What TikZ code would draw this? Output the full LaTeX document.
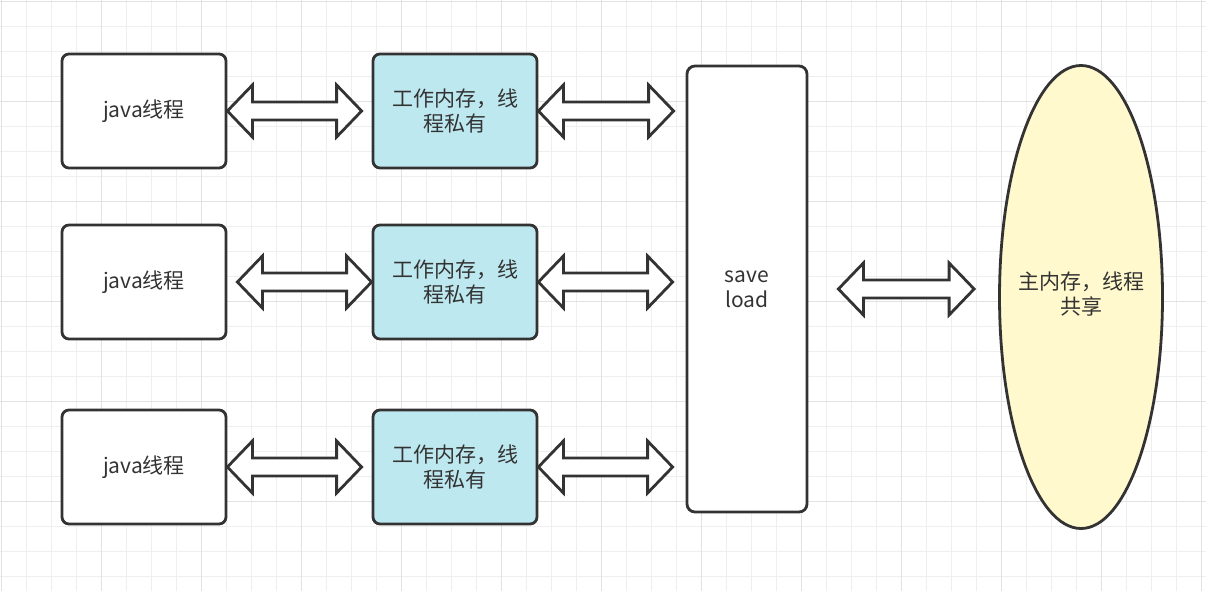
\documentclass[tikz,border=0pt]{standalone}
\usepackage{fontspec}
\setmainfont{Noto Sans CJK SC}
\usetikzlibrary{calc,shapes.geometric}
\definecolor{strokec}{HTML}{333333}
\definecolor{bluef}{HTML}{BEE8EF}
\definecolor{yellowf}{HTML}{FFF9CD}
\definecolor{gridminor}{HTML}{EFEFEF}
\definecolor{gridmajor}{HTML}{E2E2E2}
\newcommand{\dblarrow}[2]{%
  \draw[flexarr] let \p1=(#1), \p2=(#2) in
    (\x1,\y1) -- (\x1+25pt,\y1+26pt) -- (\x1+25pt,\y1+9pt) -- (\x2-25pt,\y1+9pt)
    -- (\x2-25pt,\y1+26pt) -- (\x2,\y1) -- (\x2-25pt,\y1-26pt) -- (\x2-25pt,\y1-9pt)
    -- (\x1+25pt,\y1-9pt) -- (\x1+25pt,\y1-26pt) -- cycle;}
\tikzset{
  txt/.style={text=strokec, align=center, font=\fontsize{21}{25}\selectfont},
  javabox/.style={txt, draw=strokec, line width=2.8pt, fill=white, rounded corners=7pt,
    minimum width=164pt, minimum height=114pt, inner sep=0pt},
  workbox/.style={javabox, fill=bluef},
  savebox/.style={txt, draw=strokec, line width=2.8pt, fill=white, rounded corners=8pt,
    minimum width=120pt, minimum height=446pt, inner sep=0pt},
  mainmem/.style={text=strokec, font=\fontsize{21}{25}\selectfont, ellipse, draw=strokec,
    line width=2.8pt, fill=yellowf, minimum width=163pt, minimum height=463pt, inner sep=0pt},
  flexarr/.style={draw=strokec, fill=white, line width=2.8pt, line join=miter},
}
\begin{document}
\begin{tikzpicture}[x=1pt,y=-1pt]
\useasboundingbox (0,0) rectangle (1206,591);
\fill[white] (0,0) rectangle (1206,591);
\foreach \i in {0,...,48} {
  \draw[gridminor, line width=1pt] ({1.7+25*\i},0) -- ({1.7+25*\i},591);
}
\foreach \i in {0,...,23} {
  \draw[gridminor, line width=1pt] (0,{1.7+25*\i}) -- (1206,{1.7+25*\i});
}
\foreach \i in {0,...,12} {
  \draw[gridmajor, line width=1.3pt] ({1.7+100*\i},0) -- ({1.7+100*\i},591);
}
\foreach \i in {0,...,5} {
  \draw[gridmajor, line width=1.3pt] (0,{1.7+100*\i}) -- (1206,{1.7+100*\i});
}

\node[javabox] (j1) at (144,111) {java线程};
\node[javabox] (j2) at (144,282) {java线程};
\node[javabox] (j3) at (144,467) {java线程};
\node[workbox] (w1) at (455,111) {工作内存，线\\程私有};
\node[workbox] (w2) at (455,282) {工作内存，线\\程私有};
\node[workbox] (w3) at (455,467) {工作内存，线\\程私有};
\node[savebox] (s) at (747,289) {save\\load};
\node[mainmem] (m) at (1081,297) {\makebox[0pt][c]{\begin{tabular}{@{}c@{}}主内存，线程\\共享\end{tabular}}};

\dblarrow{j1.east}{$(w1.west)+(-10,0)$}
\dblarrow{$(j2.east)+(10,0)$}{w2.west}
\dblarrow{j3.east}{$(w3.west)+(-10,0)$}
\dblarrow{w1.east}{$(s.west)+(-12,0)$}
\dblarrow{w2.east}{$(s.west)+(-13,0)$}
\dblarrow{w3.east}{$(s.west)+(-13,0)$}
\dblarrow{$(s.east)+(30,0)$}{$(m.west)+(-24,0)$}
\end{tikzpicture}
\end{document}
